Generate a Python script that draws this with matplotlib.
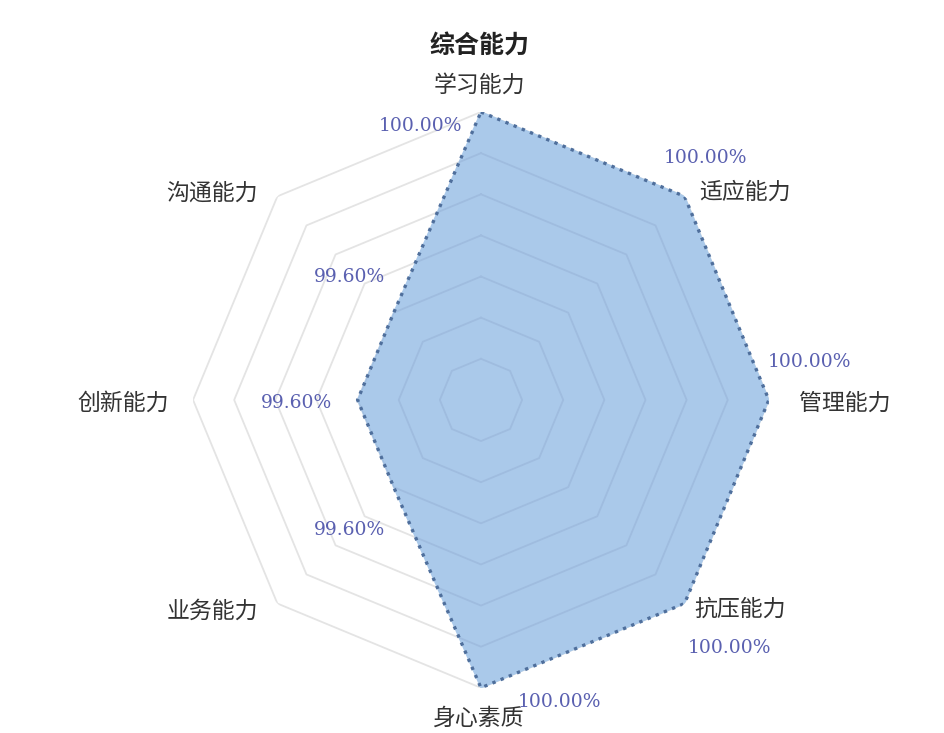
import numpy as np
import matplotlib
matplotlib.use("Agg")
import matplotlib.pyplot as plt

plt.rcParams['font.family'] = ['Noto Sans CJK SC', 'DejaVu Sans']

title = "综合能力"
categories = ["学习能力", "适应能力", "管理能力", "抗压能力", "身心素质", "业务能力", "创新能力", "沟通能力"]
values = [100.00, 100.00, 100.00, 100.00, 100.00, 99.60, 99.60, 99.60]
r_min, r_max = 99.3, 100.0
ring_levels = [99.4, 99.5, 99.6, 99.7, 99.8, 99.9, 100.0]

# label offsets (pixels) for value labels and category labels
val_offsets = [(-60, -14), (21, 38), (41, 38), (45, -44), (79, -14), (-44, -43), (-61, -3), (-44, 36)]
cat_offsets = [(-2, 27), (60, 4), (76, -3), (56, -6), (-3, -30), (-65, -8), (-70, -3), (-65, 3)]

fig = plt.figure(figsize=(9.44, 7.33), dpi=100)
ax = fig.add_axes([0.2045, 0.0614, 0.610, 0.786], projection='polar')
ax.set_theta_zero_location('N')
ax.set_theta_direction(-1)
ax.set_ylim(r_min, r_max)
ax.grid(False)
ax.spines['polar'].set_visible(False)
ax.set_xticks([])
ax.set_yticks([])
ax.patch.set_alpha(0)

n = len(categories)
theta = np.linspace(0, 2 * np.pi, n, endpoint=False)
th_c = np.append(theta, theta[0])

for lv in ring_levels:
    ax.plot(th_c, [lv] * (n + 1), color='#e4e4e4', lw=1.3, zorder=1)

vals_c = np.append(values, values[0])
fill = ax.fill(th_c, vals_c, color='#aac9ea', zorder=2)[0]
for lv in ring_levels[:-1]:
    ln, = ax.plot(th_c, [lv] * (n + 1), color='#9fbcdf', lw=1.3, zorder=3)
    ln.set_clip_path(fill)
ax.plot(th_c, vals_c, color='#4f6f9c', lw=2.4, ls=':', zorder=4)

for i, (t, v) in enumerate(zip(theta, values)):
    ax.annotate(f"{v:.2f}%", xy=(t, v), xytext=val_offsets[i], textcoords='offset pixels',
                ha='center', va='center', fontsize=13.5, color='#5a60b0',
                family=['DejaVu Serif'], zorder=5, annotation_clip=False)
    ax.annotate(categories[i], xy=(t, r_max), xytext=cat_offsets[i], textcoords='offset pixels',
                ha='center', va='center', fontsize=16.5, color='#333333', zorder=5,
                annotation_clip=False)

fig.text(0.508, 0.938, title, ha='center', va='center', fontsize=18, fontweight='bold', color='#222222')

fig.savefig('out.png', dpi=100, facecolor='white')
